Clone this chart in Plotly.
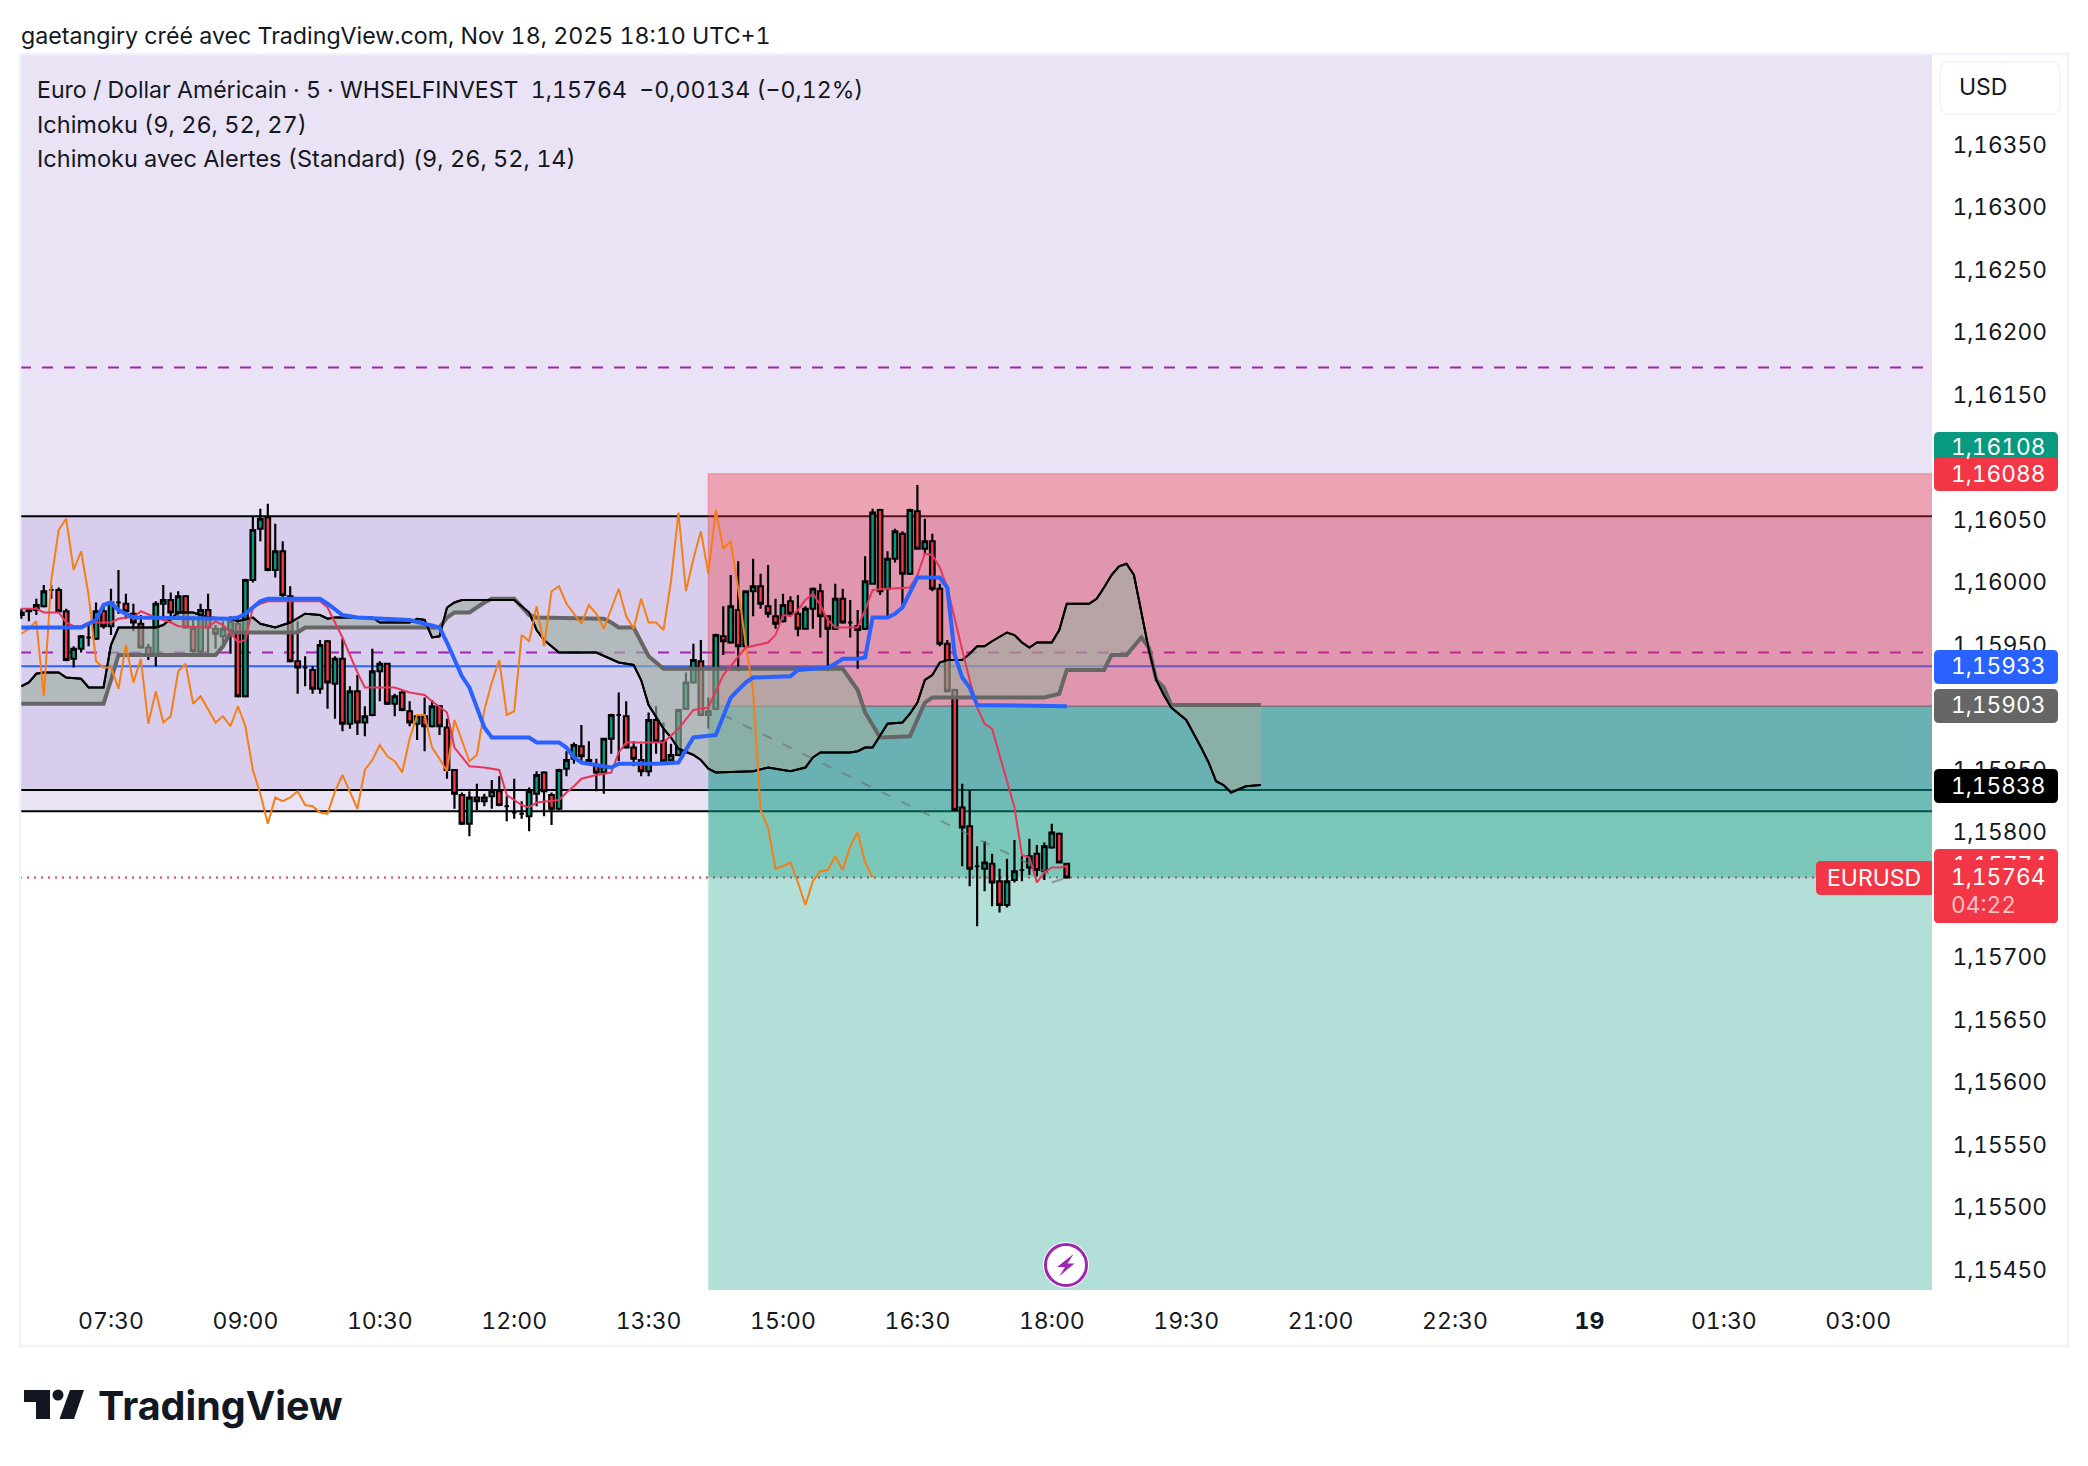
import pandas as pd
import plotly.graph_objects as go

# ---------- data ----------
bar_start = "2025-11-18 06:30"
bar_minutes = 5

opens = [1.15976,1.15977,1.15978,1.15981,1.15994,1.15994,1.15977,1.15939,1.15947,1.15956,
1.15955,1.15977,1.15965,1.15984,1.15983,1.15975,1.15967,1.15948,1.15942,1.15983,
1.15986,1.15976,1.15989,1.15963,1.15945,1.15978,1.15963,1.15957,1.15962,1.15967,
1.15909,1.16002,1.16043,1.16052,1.16010,1.16025,1.15989,1.15937,1.15932,1.15930,
1.15915,1.15953,1.15919,1.15939,1.15887,1.15913,1.15888,1.15894,1.15929,1.15935,
1.15903,1.15912,1.15897,1.15887,1.15893,1.15885,1.15901,1.15884,1.15850,1.15830,
1.15807,1.15828,1.15825,1.15829,1.15833,1.15821,1.15816,1.15815,1.15813,1.15831,
1.15848,1.15830,1.15819,1.15851,1.15859,1.15869,1.15858,1.15854,1.15848,1.15875,
1.15894,1.15893,1.15868,1.15858,1.15849,1.15890,1.15873,1.15858,1.15862,1.15899,
1.15920,1.15937,1.15894,1.15899,1.15957,1.15952,1.15978,1.15949,1.15993,1.15997,
1.15981,1.15973,1.15969,1.15985,1.15975,1.15963,1.15979,1.15993,1.15973,1.15963,
1.15987,1.15968,1.15965,1.15963,1.15999,1.16058,1.15995,1.16019,1.16039,1.16007,
1.16057,1.16027,1.16033,1.15995,1.15951,1.15914,1.15820,1.15805,1.15773,1.15771,
1.15775,1.15761,1.15742,1.15762,1.15770,1.15772,1.15783,1.15769,1.15788,1.15799,
1.15775]
highs = [1.15979,1.15978,1.15987,1.15998,1.15998,1.15996,1.15979,1.15949,1.15958,1.15967,
1.15984,1.15983,1.15995,1.16010,1.15991,1.15983,1.15974,1.15951,1.15985,1.15998,
1.15992,1.15993,1.15990,1.15973,1.15983,1.15991,1.15966,1.15969,1.15973,1.15971,
1.16003,1.16053,1.16059,1.16063,1.16047,1.16033,1.15997,1.15969,1.15941,1.15933,
1.15954,1.15954,1.15941,1.15955,1.15917,1.15926,1.15901,1.15947,1.15937,1.15935,
1.15911,1.15914,1.15905,1.15894,1.15908,1.15906,1.15902,1.15891,1.15850,1.15832,
1.15833,1.15839,1.15831,1.15842,1.15845,1.15829,1.15843,1.15825,1.15836,1.15849,
1.15849,1.15832,1.15851,1.15865,1.15872,1.15886,1.15873,1.15859,1.15875,1.15895,
1.15912,1.15905,1.15873,1.15871,1.15896,1.15901,1.15888,1.15871,1.15899,1.15928,
1.15951,1.15954,1.15908,1.15959,1.15981,1.16006,1.16017,1.15993,1.16019,1.16007,
1.16014,1.15987,1.15991,1.15989,1.15990,1.15981,1.15996,1.15999,1.15973,1.15999,
1.15995,1.15986,1.15978,1.16021,1.16059,1.16059,1.16025,1.16043,1.16041,1.16059,
1.16078,1.16051,1.16039,1.15999,1.15954,1.15915,1.15839,1.15834,1.15789,1.15793,
1.15783,1.15771,1.15779,1.15794,1.15781,1.15795,1.15790,1.15792,1.15807,1.15800,
1.15775]
lows = [1.15971,1.15969,1.15974,1.15980,1.15987,1.15976,1.15937,1.15932,1.15944,1.15949,
1.15954,1.15963,1.15958,1.15975,1.15971,1.15961,1.15947,1.15938,1.15933,1.15973,
1.15968,1.15973,1.15963,1.15943,1.15943,1.15941,1.15947,1.15951,1.15943,1.15908,
1.15908,1.16000,1.16033,1.16009,1.16004,1.15987,1.15936,1.15911,1.15917,1.15911,
1.15911,1.15899,1.15891,1.15881,1.15883,1.15878,1.15877,1.15893,1.15905,1.15902,
1.15893,1.15897,1.15885,1.15874,1.15865,1.15884,1.15878,1.15843,1.15819,1.15806,
1.15797,1.15818,1.15821,1.15819,1.15821,1.15809,1.15811,1.15811,1.15801,1.15821,
1.15813,1.15806,1.15818,1.15845,1.15855,1.15855,1.15855,1.15833,1.15831,1.15863,
1.15857,1.15867,1.15853,1.15845,1.15845,1.15863,1.15856,1.15857,1.15861,1.15898,
1.15919,1.15893,1.15883,1.15898,1.15942,1.15951,1.15929,1.15947,1.15973,1.15979,
1.15972,1.15963,1.15968,1.15973,1.15957,1.15963,1.15963,1.15956,1.15929,1.15962,
1.15967,1.15956,1.15931,1.15962,1.15999,1.15990,1.15973,1.16016,1.15982,1.16006,
1.16027,1.16022,1.15993,1.15949,1.15913,1.15817,1.15773,1.15757,1.15725,1.15753,
1.15741,1.15736,1.15740,1.15760,1.15761,1.15766,1.15765,1.15762,1.15787,1.15776,
1.15763]
closes = [1.15974,1.15978,1.15982,1.15993,1.15994,1.15977,1.15938,1.15947,1.15957,1.15956,
1.15977,1.15965,1.15984,1.15984,1.15977,1.15968,1.15948,1.15942,1.15983,1.15986,
1.15976,1.15989,1.15964,1.15945,1.15978,1.15964,1.15959,1.15963,1.15969,1.15909,
1.16002,1.16042,1.16051,1.16010,1.16025,1.15990,1.15937,1.15932,1.15932,1.15915,
1.15950,1.15920,1.15939,1.15887,1.15913,1.15888,1.15893,1.15929,1.15935,1.15903,
1.15909,1.15898,1.15888,1.15893,1.15885,1.15901,1.15885,1.15850,1.15831,1.15807,
1.15828,1.15825,1.15828,1.15833,1.15822,1.15821,1.15816,1.15815,1.15833,1.15846,
1.15833,1.15819,1.15850,1.15858,1.15870,1.15861,1.15857,1.15848,1.15875,1.15894,
1.15894,1.15868,1.15859,1.15849,1.15890,1.15873,1.15857,1.15862,1.15898,1.15920,
1.15938,1.15894,1.15897,1.15958,1.15953,1.15981,1.15949,1.15993,1.15997,1.15983,
1.15975,1.15967,1.15982,1.15975,1.15963,1.15979,1.15995,1.15973,1.15963,1.15987,
1.15968,1.15968,1.15962,1.16001,1.16056,1.15993,1.16019,1.16041,1.16007,1.16058,
1.16027,1.16033,1.15995,1.15951,1.15913,1.15818,1.15804,1.15771,1.15773,1.15776,
1.15760,1.15742,1.15761,1.15769,1.15770,1.15781,1.15770,1.15789,1.15800,1.15776,
1.15764]

chikou = [1.15959,1.15963,1.15969,1.15909,1.16002,1.16042,1.16051,1.16010,1.16025,1.15990,
1.15937,1.15932,1.15932,1.15915,1.15950,1.15920,1.15939,1.15887,1.15913,1.15888,
1.15893,1.15929,1.15935,1.15903,1.15909,1.15898,1.15888,1.15893,1.15885,1.15901,
1.15885,1.15850,1.15831,1.15807,1.15828,1.15825,1.15828,1.15833,1.15822,1.15821,
1.15816,1.15815,1.15833,1.15846,1.15833,1.15819,1.15850,1.15858,1.15870,1.15861,
1.15857,1.15848,1.15875,1.15894,1.15894,1.15868,1.15859,1.15849,1.15890,1.15873,
1.15857,1.15862,1.15898,1.15920,1.15938,1.15894,1.15897,1.15958,1.15953,1.15981,
1.15949,1.15993,1.15997,1.15983,1.15975,1.15967,1.15982,1.15975,1.15963,1.15979,
1.15995,1.15973,1.15963,1.15987,1.15968,1.15968,1.15962,1.16001,1.16056,1.15993,
1.16019,1.16041,1.16007,1.16058,1.16027,1.16033,1.15995,1.15951,1.15913,1.15818,
1.15804,1.15771,1.15773,1.15776,1.15760,1.15742,1.15761,1.15769,1.15770,1.15781,
1.15770,1.15789,1.15800,1.15776,1.15764]

tenkan_bar = [0,2,3,5,6,7,8,9,12,13,14,15,16,18,20,21,25,26,27,28,29,30,31,32,33,40,41,43,45,46,50,52,54,55,57,58,60,62,64,65,67,68,69,72,73,74,75,77,79,80,81,86,88,90,92,94,97,100,101,102,103,104,105,106,107,108,109,112,113,114,116,119,120,121,122,123,124,125,126,127,128,129,130,131,132,133,134,135,136,137,138,139,140]
tenkan_val = [1.15979,1.15979,1.15976,1.15976,1.15968,1.15965,1.15965,1.15968,1.15968,1.15971,1.15972,1.15972,1.15977,1.15972,1.15968,1.15965,1.15964,1.15969,1.15966,1.15960,1.15952,1.15954,1.15980,1.15983,1.15985,1.15985,1.15980,1.15956,1.15928,1.15916,1.15916,1.15912,1.15910,1.15905,1.15896,1.15868,1.15853,1.15852,1.15850,1.15830,1.15822,1.15820,1.15824,1.15826,1.15832,1.15837,1.15843,1.15846,1.15848,1.15864,1.15872,1.15872,1.15883,1.15898,1.15900,1.15926,1.15948,1.15952,1.15958,1.15974,1.15973,1.15978,1.15986,1.15991,1.15982,1.15970,1.15964,1.15964,1.15978,1.15994,1.15995,1.15996,1.16006,1.16023,1.16022,1.16012,1.15996,1.15970,1.15946,1.15922,1.15900,1.15887,1.15883,1.15862,1.15840,1.15820,1.15782,1.15780,1.15760,1.15768,1.15772,1.15772,1.15773]

kijun_bar = [0,8,9,10,11,12,13,15,28,29,30,31,32,33,40,41,43,45,52,54,56,57,58,59,60,61,62,63,68,69,72,73,74,75,79,80,85,88,89,90,93,94,95,96,97,98,103,104,108,109,110,112,113,114,116,117,118,119,120,123,124,125,126,127,128,140]
kijun_val = [1.15964,1.15964,1.15967,1.15970,1.15982,1.15984,1.15978,1.15972,1.15971,1.15972,1.15975,1.15980,1.15985,1.15987,1.15987,1.15983,1.15974,1.15972,1.15970,1.15967,1.15964,1.15952,1.15938,1.15925,1.15916,1.15900,1.15884,1.15876,1.15876,1.15872,1.15872,1.15868,1.15860,1.15856,1.15852,1.15855,1.15855,1.15856,1.15866,1.15876,1.15878,1.15893,1.15908,1.15914,1.15920,1.15924,1.15925,1.15930,1.15932,1.15935,1.15939,1.15939,1.15940,1.15972,1.15972,1.15975,1.15980,1.15992,1.16004,1.16004,1.15996,1.15942,1.15924,1.15916,1.15902,1.15901]

senkou_a_bar = [0,11,12,13,26,27,28,37,38,56,57,58,60,62,63,66,68,69,78,79,80,82,84,86,110,111,112,113,115,119,120,121,122,126,137,139,140,145,146,148,150,151,152,153,154,166]
senkou_a_val = [1.15903,1.15903,1.15922,1.15942,1.15942,1.15949,1.15960,1.15960,1.15964,1.15964,1.15972,1.15976,1.15976,1.15984,1.15987,1.15987,1.15974,1.15972,1.15971,1.15968,1.15964,1.15964,1.15941,1.15931,1.15931,1.15922,1.15914,1.15896,1.15876,1.15877,1.15890,1.15904,1.15908,1.15908,1.15908,1.15911,1.15930,1.15930,1.15942,1.15942,1.15956,1.15948,1.15922,1.15916,1.15902,1.15902]

senkou_b_bar = [0,1,2,3,5,6,8,9,11,12,13,18,19,21,23,25,28,29,31,32,34,36,38,40,41,42,47,48,52,53,54,55,56,57,58,59,66,68,69,70,72,77,80,82,83,84,86,87,88,90,91,92,93,98,100,103,105,106,107,111,112,113,114,116,118,119,120,121,122,123,124,126,127,128,129,130,132,133,134,135,136,138,139,140,143,144,145,146,147,148,149,150,151,152,153,154,155,156,158,159,160,161,162,164,166]
senkou_b_val = [1.15917,1.15920,1.15927,1.15928,1.15928,1.15924,1.15923,1.15916,1.15916,1.15950,1.15964,1.15964,1.15966,1.15976,1.15976,1.15972,1.15971,1.15969,1.15972,1.15967,1.15964,1.15968,1.15975,1.15974,1.15971,1.15972,1.15972,1.15968,1.15968,1.15971,1.15970,1.15956,1.15957,1.15980,1.15984,1.15986,1.15986,1.15976,1.15962,1.15954,1.15944,1.15944,1.15936,1.15934,1.15922,1.15902,1.15883,1.15876,1.15867,1.15862,1.15858,1.15851,1.15848,1.15849,1.15852,1.15849,1.15852,1.15860,1.15864,1.15864,1.15865,1.15868,1.15868,1.15887,1.15888,1.15895,1.15904,1.15922,1.15926,1.15936,1.15938,1.15938,1.15943,1.15949,1.15949,1.15953,1.15960,1.15958,1.15952,1.15948,1.15952,1.15952,1.15962,1.15983,1.15983,1.15987,1.15996,1.16006,1.16013,1.16015,1.16006,1.15977,1.15946,1.15922,1.15910,1.15900,1.15895,1.15890,1.15868,1.15856,1.15841,1.15838,1.15832,1.15837,1.15838]

trend_bar = [94, 138]
trend_val = [1.15894, 1.15766]
trend2_bar = [138, 139.5]
trend2_val = [1.15760, 1.15763]

level_black = [1.16053, 1.15834, 1.15817]
level_purple = [1.16172, 1.15944]
level_blue = 1.15933
level_gray = 1.15901
last_price = 1.15764
zone_start = "2025-11-18 14:10"
zone_end = "2025-11-19 03:50"
zone_top = 1.16087
zone_mid = 1.15901
band_outer_low = 1.15817
band_inner = (1.15834, 1.16053)

price_ticks = [1.16350,1.16300,1.16250,1.16200,1.16150,1.16050,1.16000,1.15950,1.15850,1.15800,1.15774,1.15700,1.15650,1.15600,1.15550,1.15500,1.15450]
time_ticks = ["2025-11-18 07:30","2025-11-18 09:00","2025-11-18 10:30","2025-11-18 12:00","2025-11-18 13:30","2025-11-18 15:00","2025-11-18 16:30","2025-11-18 18:00","2025-11-18 19:30","2025-11-18 21:00","2025-11-18 22:30","2025-11-19 00:00","2025-11-19 01:30","2025-11-19 03:00"]
time_labels = ["07:30","09:00","10:30","12:00","13:30","15:00","16:30","18:00","19:30","21:00","22:30","<b>19</b>","01:30","03:00"]

FONT = "Inter"
GREEN, RED, BLUE = "#089981", "#F23645", "#2962FF"
INK = "#131722"
W, H = 2088, 1466
L, R, T, B = 20, 1932, 55, 1290

def t(bars):
    return pd.Timestamp(bar_start) + pd.to_timedelta([b * bar_minutes for b in bars], unit="min")

def px(x):
    return (x - L) / (R - L)

def py(y):
    return (B - y) / (B - T)

def rrect(x0, y0, x1, y1, r=5, tl=True, tr=True, br=True, bl=True):
    def pt(x, y):
        return f"{px(x):.6f},{py(y):.6f}"
    s = f"M {pt(x0 + (r if tl else 0), y0)} L {pt(x1 - (r if tr else 0), y0)} "
    if tr: s += f"Q {pt(x1, y0)} {pt(x1, y0 + r)} "
    s += f"L {pt(x1, y1 - (r if br else 0))} "
    if br: s += f"Q {pt(x1, y1)} {pt(x1 - r, y1)} "
    s += f"L {pt(x0 + (r if bl else 0), y1)} "
    if bl: s += f"Q {pt(x0, y1)} {pt(x0, y1 - r)} "
    s += f"L {pt(x0, y0 + (r if tl else 0))} "
    if tl: s += f"Q {pt(x0, y0)} {pt(x0 + r, y0)} "
    return s + "Z"

def poly(points):
    return "M " + " L ".join(f"{px(x):.6f},{py(y):.6f}" for x, y in points) + " Z"

shapes, anns = [], []

def box(path, fill, line=None, lw=0, layer="above"):
    shapes.append(dict(type="path", path=path, xref="paper", yref="paper", fillcolor=fill,
                       line=dict(color=line or "rgba(0,0,0,0)", width=lw), layer=layer))

def text(x, y, s, size=23.5, color=INK, anchor="left"):
    anns.append(dict(x=px(x), y=py(y), xref="paper", yref="paper", text=s, showarrow=False,
                     xanchor=anchor, yanchor="middle", align=anchor,
                     font=dict(family=FONT, size=size, color=color)))

def hline(v, color, width, dash="solid"):
    shapes.append(dict(type="line", xref="paper", x0=0, x1=1, yref="y", y0=v, y1=v, layer="below",
                       line=dict(color=color, width=width, dash=dash)))

def zone(y0, y1, fill, line=None):
    shapes.append(dict(type="rect", xref="x", x0=zone_start, x1=zone_end, yref="y", y0=y0, y1=y1, layer="below",
                       fillcolor=fill, line=dict(color=line or "rgba(0,0,0,0)", width=1.5 if line else 0)))

shapes.append(dict(type="rect", xref="paper", x0=0, x1=1, yref="y", y0=band_outer_low, y1=1.17, layer="below",
                   fillcolor="rgba(103,58,183,0.14)", line_width=0))
shapes.append(dict(type="rect", xref="paper", x0=0, x1=1, yref="y", y0=band_inner[0], y1=band_inner[1], layer="below",
                   fillcolor="rgba(103,58,183,0.13)", line_width=0))
for v in level_black:
    hline(v, "#000000", 2)
for v in level_purple:
    hline(v, "#9C27B0", 2, "11px,11px")
hline(level_blue, BLUE, 2)
zone(zone_mid, zone_top, "rgba(242,54,69,0.36)", "rgba(242,54,69,0.3)")
zone(1.15, zone_mid, "rgba(8,153,129,0.31)")
zone(last_price, zone_mid, "rgba(8,153,129,0.325)")
zone(level_gray, level_gray, "rgba(0,0,0,0)", "rgba(102,102,102,0.6)")
hline(last_price, RED, 2, "2px,5px")

fig = go.Figure()
fig.add_trace(go.Scatter(x=t(senkou_b_bar), y=senkou_b_val, mode="lines", line=dict(color="#000000", width=2), hoverinfo="skip"))
fig.add_trace(go.Scatter(x=t(senkou_a_bar), y=senkou_a_val, mode="lines", line=dict(color="#666666", width=4),
                         fill="tonexty", fillcolor="rgba(157,175,160,0.62)", hoverinfo="skip"))
fig.add_trace(go.Scatter(x=t(senkou_b_bar), y=senkou_b_val, mode="lines", line=dict(color="#000000", width=2), hoverinfo="skip"))
fig.add_trace(go.Scatter(x=t(trend_bar), y=trend_val, mode="lines", line=dict(color="rgba(110,110,110,0.6)", width=2, dash="10px,12px"), hoverinfo="skip"))
fig.add_trace(go.Scatter(x=t(trend2_bar), y=trend2_val, mode="lines", line=dict(color="rgba(110,110,110,0.6)", width=2), hoverinfo="skip"))
fig.add_trace(go.Scatter(x=t(range(len(chikou))), y=chikou, mode="lines", line=dict(color="#F57F17", width=2), hoverinfo="skip"))
fig.add_trace(go.Scatter(x=t(tenkan_bar), y=tenkan_val, mode="lines", line=dict(color="#E8365A", width=2), hoverinfo="skip"))
fig.add_trace(go.Scatter(x=t(kijun_bar), y=kijun_val, mode="lines", line=dict(color=BLUE, width=4), hoverinfo="skip"))
fig.add_trace(go.Candlestick(x=t(range(len(opens))), open=opens, high=highs, low=lows, close=closes,
                             increasing=dict(fillcolor=GREEN, line=dict(color="#000000", width=2.2)),
                             decreasing=dict(fillcolor=RED, line=dict(color="#000000", width=2.2)),
                             whiskerwidth=0, hoverinfo="skip"))

# panel frame and USD box
box(rrect(L, T - 1, 2068, 1346, r=0), "rgba(0,0,0,0)", "#F0F3FA", 2.5, layer="below")
box(rrect(1940, 62, 2060, 114, r=9), "#FFFFFF", "#F0F3FA", 1.5, layer="above")
text(1957, 87, "USD", 23)

# price tags
TAG = 22.7
box(rrect(1934, 432, 2058, 470), GREEN)
box(rrect(1934, 457, 2058, 491), RED)
box(rrect(1934, 650, 2058, 684), BLUE)
box(rrect(1934, 689, 2058, 723), "#666666")
box(rrect(1934, 769, 2058, 803), "#000000")
box(rrect(1934, 849, 2058, 923), RED, layer="below")
box(rrect(1934, 860, 2058, 923, tl=False, tr=False), RED)
box(rrect(1816, 861, 1932, 895, tr=False, br=False), RED)
text(1949, 447, "1,16108", TAG, "#FFFFFF")
text(1949, 473, "1,16088", TAG, "#FFFFFF")
text(1949, 665, "1,15933", TAG, "#FFFFFF")
text(1949, 704.5, "1,15903", TAG, "#FFFFFF")
text(1949, 785, "1,15838", TAG, "#FFFFFF")
text(1949, 876, "1,15764", TAG, "#FFFFFF")
text(1949, 904, "04:22", TAG, "rgba(255,255,255,0.7)")
text(1874, 878, "EURUSD", 23, "#FFFFFF", "center")

# headers
text(19, 36, "gaetangiry créé avec TradingView.com, Nov 18, 2025 18:10 UTC+1", 23.2)
text(34.5, 90, "Euro / Dollar Américain · 5 · WHSELFINVEST  1,15764  −0,00134 (−0,12%)", 23.1)
text(34.5, 124, "Ichimoku (9, 26, 52, 27)", 23.5)
text(34.5, 158, "Ichimoku avec Alertes (Standard) (9, 26, 52, 14)", 23.5)

# event marker
shapes.append(dict(type="circle", xref="paper", yref="paper", x0=px(1043), x1=px(1089), y0=py(1288), y1=py(1242),
                   fillcolor="#FFFFFF", line_width=0, layer="above"))
shapes.append(dict(type="circle", xref="paper", yref="paper", x0=px(1045.5), x1=px(1086.5), y0=py(1285.5), y1=py(1244.5),
                   fillcolor="rgba(0,0,0,0)", line=dict(color="#9C27B0", width=3), layer="above"))
box(poly([(1073.5, 1254), (1057, 1267), (1065, 1267), (1059.5, 1276), (1074.5, 1263.5), (1067.5, 1263.5)]), "#9C27B0")

# logo
box(poly([(24, 1390), (50, 1390), (50, 1419), (36, 1419), (36, 1402), (24, 1402)]), INK)
shapes.append(dict(type="circle", xref="paper", yref="paper", x0=px(52.5), x1=px(63.5), y0=py(1400.5), y1=py(1389.5),
                   layer="above", fillcolor=INK, line_width=0))
box(poly([(70, 1390), (84, 1390), (74, 1419), (59.5, 1419)]), INK)
text(95.5, 1406, "<b>TradingView</b>", 39.5, INK)

fig.update_layout(
    width=W, height=H, autosize=False, showlegend=False,
    margin=dict(l=L, r=W - R, t=T, b=H - B),
    paper_bgcolor="#FFFFFF", plot_bgcolor="rgba(0,0,0,0)",
    boxgap=0.12,
    shapes=shapes, annotations=anns, hovermode=False,
    font=dict(family=FONT, size=23, color=INK),
    xaxis=dict(type="date", range=["2025-11-18 06:29:04", "2025-11-19 03:49:25"], rangeslider_visible=False,
               showgrid=False, zeroline=False, showline=False,
               tickmode="array", tickvals=time_ticks, ticktext=time_labels,
               ticks="outside", ticklen=10, tickcolor="rgba(0,0,0,0)", tickfont=dict(family=FONT, size=23, color=INK)),
    yaxis=dict(side="right", range=[1.15434, 1.16422], showgrid=False, zeroline=False, showline=False,
               tickmode="array", tickvals=price_ticks,
               ticktext=[('<span style="color:#FFFFFF">1,15774</span>' if abs(v - 1.15774) < 1e-9 else f"{v:.5f}".replace(".", ",")) for v in price_ticks],
               ticks="outside", ticklen=15, tickcolor="rgba(0,0,0,0)", tickfont=dict(family=FONT, size=22.7, color=INK)),
)

fig.write_html("out.html", config=dict(displayModeBar=False, staticPlot=True),
               post_script="document.body.style.margin='0';document.body.style.overflow='hidden';"
                           "document.querySelectorAll('text').forEach(function(e){e.style.fontFeatureSettings='\"tnum\"';});")
